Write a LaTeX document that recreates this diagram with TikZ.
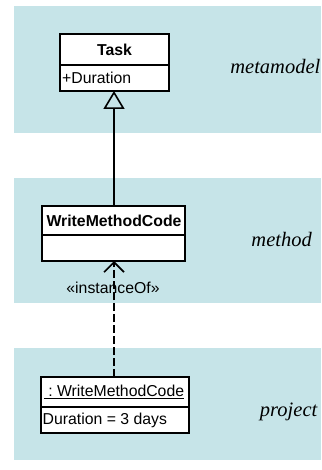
\documentclass[tikz,border=0pt]{standalone}
\usepackage{fontspec}
\setmainfont{Liberation Sans}
\newfontfamily\labelfont{Liberation Serif}
\usetikzlibrary{arrows.meta}
\definecolor{panelblue}{RGB}{198,228,232}
\begin{document}
\begin{tikzpicture}[x=1pt,y=-1pt,
  panel/.style={fill=panelblue,draw=none},
  classbox/.style={draw=black,fill=white,line width=1.6pt},
  umltext/.style={font=\fontsize{15.8}{17}\selectfont,inner sep=0pt},
  umltitle/.style={font=\bfseries\fontsize{15.8}{17}\selectfont,inner sep=0pt},
  layerlabel/.style={font=\labelfont\itshape\fontsize{20.5}{22}\selectfont,inner sep=0pt,anchor=base east},
  conn/.style={line width=1.6pt}]
\useasboundingbox (0,0) rectangle (321,470);
% layer panels
\fill[panel] (14,6) rectangle (321,133);
\fill[panel] (14,178) rectangle (321,303);
\fill[panel] (14,348) rectangle (321,460);
% layer labels
\node[layerlabel] (lmeta) at (320.5,74) {metamodel};
\node[layerlabel] (lmethod) at (312,246) {method};
\node[layerlabel] (lproject) at (317.5,416) {project};
% Task class
\draw[classbox] (60,34) rectangle (169,91);
\draw[line width=1.6pt] (60,65) -- (169,65);
\node[umltitle] (tasktitle) at (114.5,49.5) {Task};
\node[umltext,anchor=west] (taskattr) at (62,78) {+Duration};
\coordinate (taskbot) at (114,91);
% WriteMethodCode class
\draw[classbox] (42,206) rectangle (185,261);
\draw[line width=1.6pt] (42,235) -- (185,235);
\node[umltitle] (wmctitle) at (114,220.5) {WriteMethodCode};
\coordinate (wmctop) at (114,206);
\coordinate (wmcbot) at (114,261);
% instance
\draw[classbox] (41,377) rectangle (189,433);
\draw[line width=1.6pt] (41,407) -- (189,407);
\node[umltext] (insttitle) at (114,392) {\underline{\ :\ WriteMethodCode}};
\node[umltext,anchor=west] (instattr) at (42.5,420) {Duration = 3 days};
\coordinate (insttop) at (114,377);
% stereotype label
\node[umltext] (stereo) at (113,288) {«instanceOf»};
% generalization
\draw[conn,-{Triangle[open,width=21pt,length=18pt,line width=1.6pt]}] (wmctop) -- (taskbot);
% instantiation
\draw[conn,dash pattern=on 8pt off 3pt,-{Straight Barb[width=20pt,length=10pt,line width=1.6pt]}] (insttop) -- (wmcbot);
\end{tikzpicture}
\end{document}
